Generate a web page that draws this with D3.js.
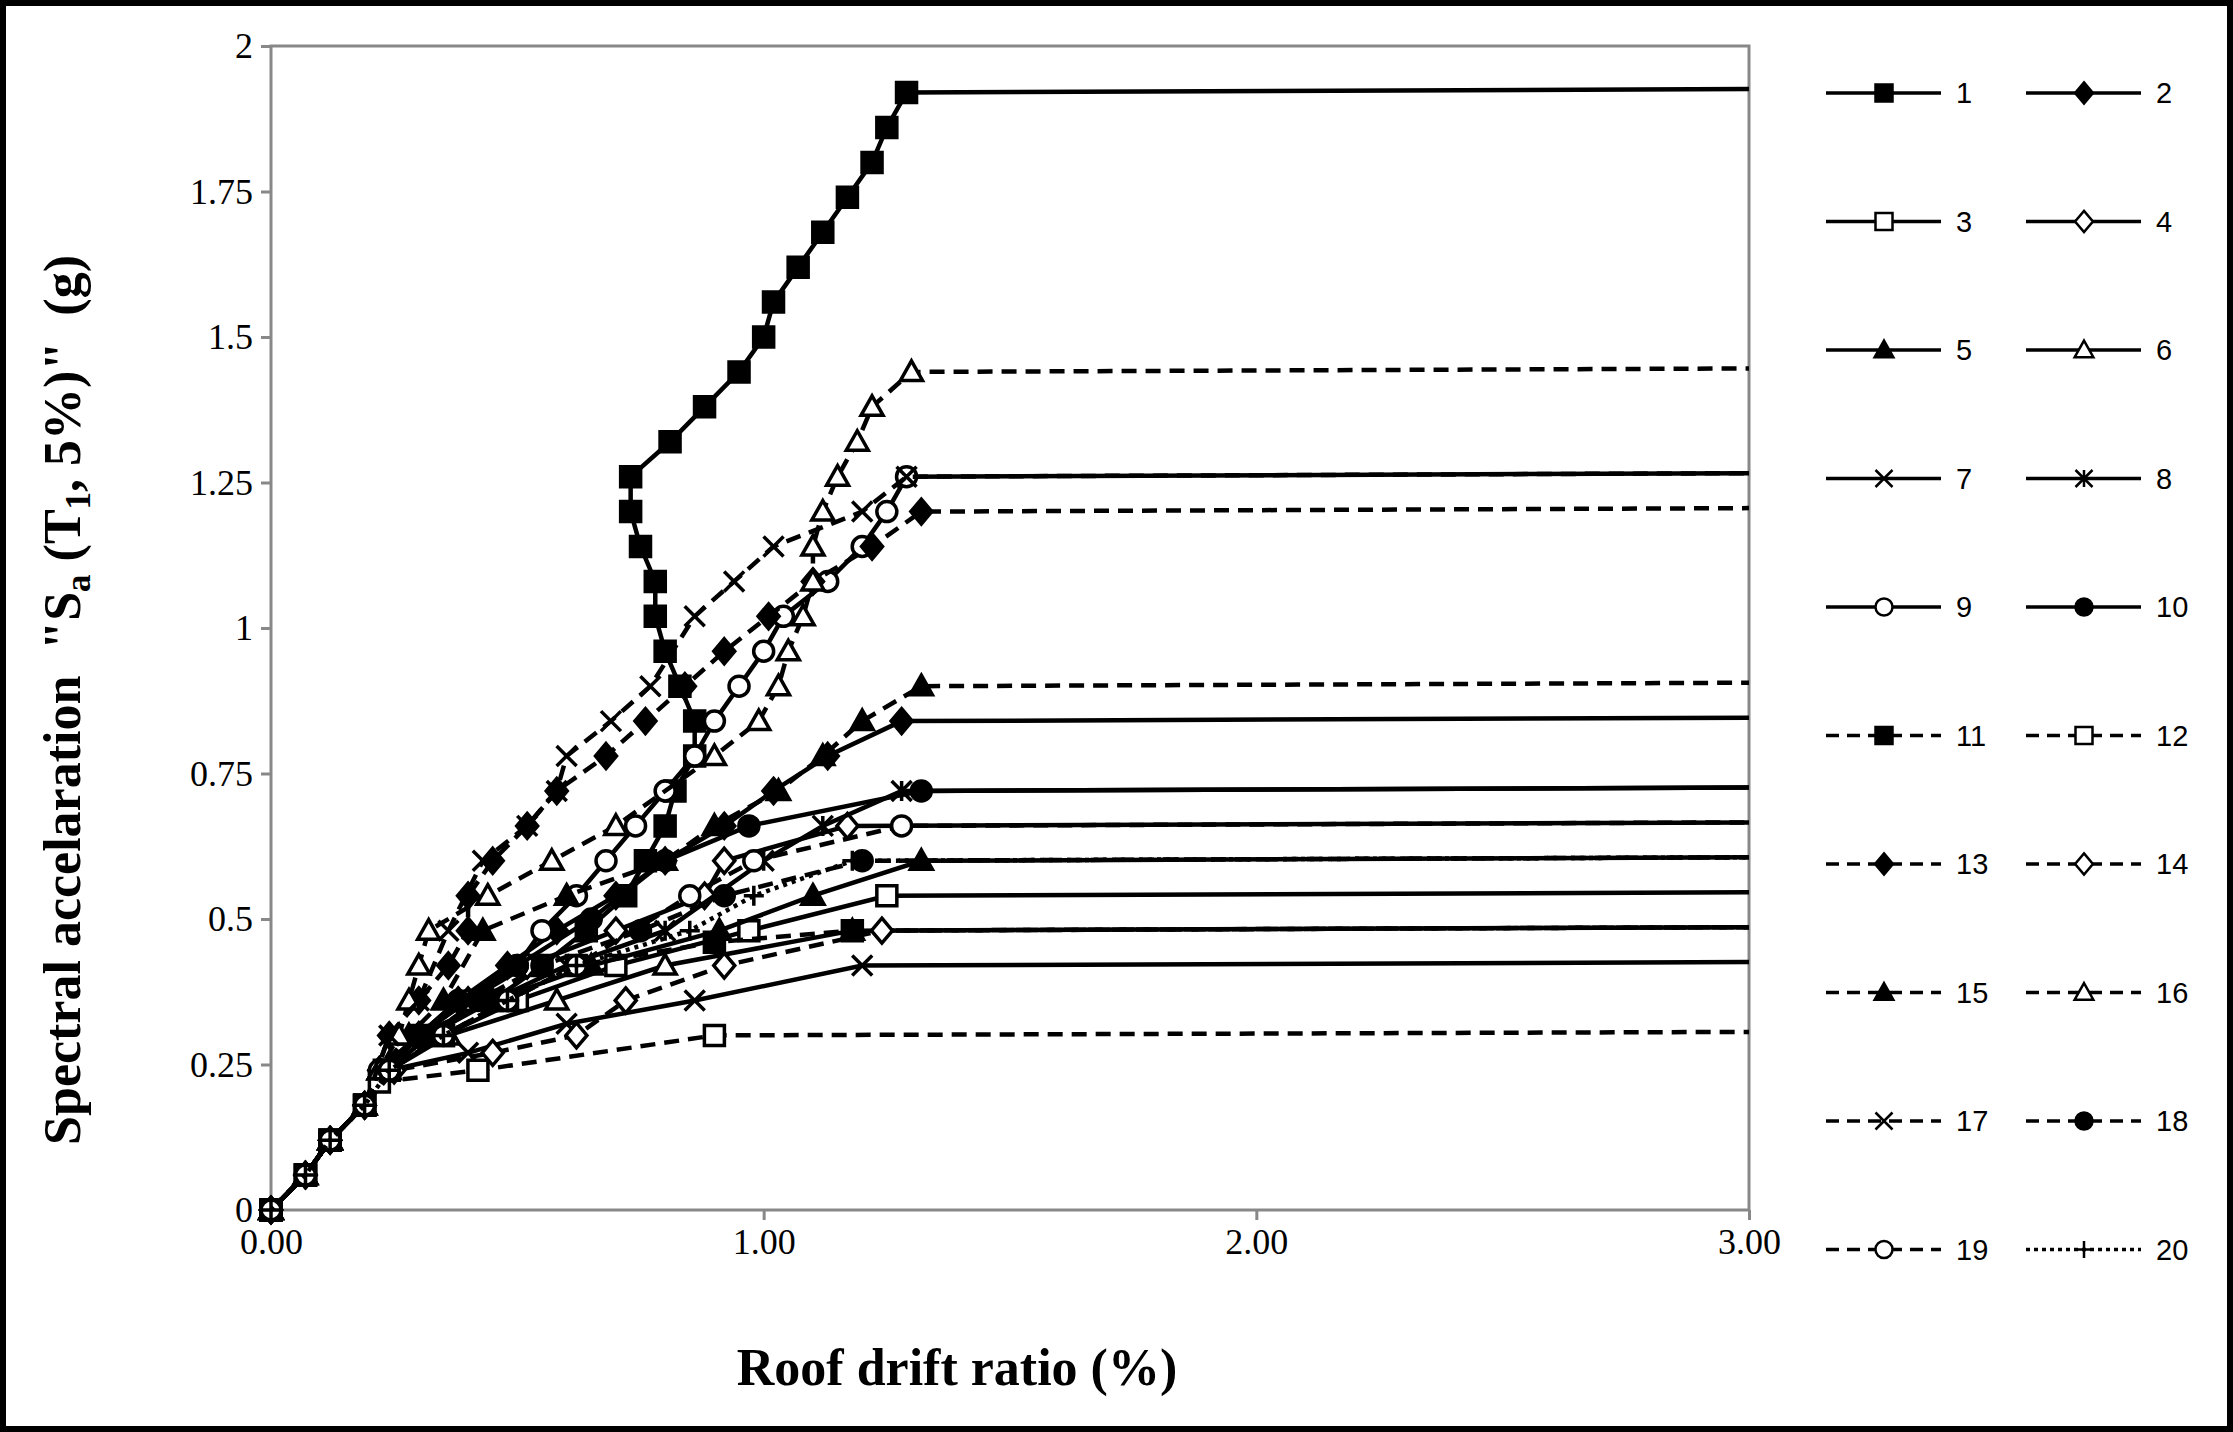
<!DOCTYPE html>
<html><head><meta charset="utf-8">
<script src="https://cdn.jsdelivr.net/npm/d3@7"></script>
<style>
body{margin:0;background:#fff;}
svg{display:block;}
</style></head>
<body><svg id="chart"></svg>
<script>
const W = 2233, H = 1432;
const margin = { left: 271, right: 484, top: 46, bottom: 222 };
const width = W - margin.left - margin.right;
const height = H - margin.top - margin.bottom;

const xTicks = [0, 1, 2, 3];
const yTicks = [0, 0.25, 0.5, 0.75, 1, 1.25, 1.5, 1.75, 2];
const names = ['1','2','3','4','5','6','7','8','9','10','11','12','13','14','15','16','17','18','19','20'];
const markers = ['squareF','diamondF','squareO','diamondO','triF','triO','cross','star','circleO','circleF',
                 'squareF','squareO','diamondF','diamondO','triF','triO','cross','circleF','circleO','plus'];
const dashes = ['solid','solid','solid','solid','solid','solid','solid','solid','solid','solid',
                'dash','dash','dash','dash','dash','dash','dash','dash','dash','dot'];

const start = [[0,0],[0.07,0.06],[0.12,0.12],[0.19,0.18]];
const s1 = [[0.23,0.24],[0.3,0.3],[0.45,0.36],[0.55,0.42],[0.64,0.48],[0.72,0.54],[0.76,0.6],[0.8,0.66],[0.82,0.72],[0.86,0.78],[0.86,0.84],[0.83,0.9],[0.8,0.96],[0.78,1.02],[0.78,1.08],[0.75,1.14],[0.73,1.2],[0.73,1.26],[0.81,1.32],[0.88,1.38],[0.95,1.44],[1.0,1.5],[1.02,1.56],[1.07,1.62],[1.12,1.68],[1.17,1.74],[1.22,1.8],[1.25,1.86],[1.29,1.92]];
const s2 = [[0.22,0.24],[0.3,0.3],[0.38,0.36],[0.48,0.42],[0.58,0.48],[0.7,0.54],[0.8,0.6],[0.92,0.66],[1.02,0.72],[1.13,0.78],[1.28,0.84]];
const s3 = [[0.24,0.24],[0.35,0.3],[0.5,0.36],[0.7,0.42],[0.97,0.48],[1.25,0.54]];
const s4 = [[0.22,0.24],[0.3,0.3],[0.4,0.36],[0.52,0.42],[0.7,0.48],[0.88,0.54],[0.92,0.6],[1.17,0.66]];
const s5 = [[0.22,0.24],[0.3,0.3],[0.45,0.36],[0.65,0.42],[0.91,0.48],[1.1,0.54],[1.32,0.6]];
const s6 = [[0.24,0.24],[0.36,0.3],[0.58,0.36],[0.8,0.42],[1.18,0.48]];
const s7 = [[0.24,0.24],[0.4,0.27],[0.6,0.32],[0.86,0.36],[1.2,0.42]];
const s8 = [[0.24,0.24],[0.32,0.3],[0.45,0.36],[0.6,0.42],[0.8,0.48],[1.0,0.6],[1.12,0.66],[1.28,0.72]];
const s9 = [[0.22,0.24],[0.3,0.3],[0.4,0.36],[0.5,0.42],[0.55,0.48],[0.62,0.54],[0.68,0.6],[0.74,0.66],[0.8,0.72],[0.86,0.78],[0.9,0.84],[0.95,0.9],[1.0,0.96],[1.04,1.02],[1.13,1.08],[1.2,1.14],[1.25,1.2],[1.29,1.26]];
const s10 = [[0.24,0.24],[0.3,0.3],[0.38,0.36],[0.5,0.42],[0.65,0.5],[0.8,0.6],[0.97,0.66],[1.32,0.72]];
const s11 = [[0.24,0.24],[0.35,0.3],[0.48,0.36],[0.62,0.42],[0.9,0.46],[1.18,0.48]];
const s12 = [[0.22,0.22],[0.42,0.24],[0.9,0.3]];
const s13 = [[0.24,0.3],[0.3,0.36],[0.36,0.42],[0.4,0.48],[0.4,0.54],[0.45,0.6],[0.52,0.66],[0.58,0.72],[0.68,0.78],[0.76,0.84],[0.84,0.9],[0.92,0.96],[1.01,1.02],[1.1,1.08],[1.22,1.14],[1.32,1.2]];
const s14 = [[0.25,0.24],[0.45,0.27],[0.62,0.3],[0.72,0.36],[0.92,0.42],[1.24,0.48]];
const s15 = [[0.22,0.24],[0.28,0.3],[0.35,0.36],[0.43,0.48],[0.6,0.54],[0.8,0.6],[0.9,0.66],[1.03,0.72],[1.12,0.78],[1.2,0.84],[1.32,0.9]];
const s16 = [[0.22,0.24],[0.26,0.3],[0.28,0.36],[0.3,0.42],[0.32,0.48],[0.44,0.54],[0.57,0.6],[0.7,0.66],[0.9,0.78],[0.99,0.84],[1.03,0.9],[1.05,0.96],[1.08,1.02],[1.1,1.08],[1.1,1.14],[1.12,1.2],[1.15,1.26],[1.19,1.32],[1.22,1.38],[1.3,1.44]];
const s17 = [[0.24,0.3],[0.3,0.36],[0.36,0.48],[0.43,0.6],[0.52,0.66],[0.58,0.72],[0.6,0.78],[0.69,0.84],[0.77,0.9],[0.86,1.02],[0.94,1.08],[1.02,1.14],[1.2,1.2],[1.29,1.26]];
const s18 = [[0.24,0.24],[0.32,0.3],[0.42,0.36],[0.55,0.42],[0.75,0.48],[0.92,0.54],[1.2,0.6]];
const s19 = [[0.24,0.24],[0.35,0.3],[0.48,0.36],[0.62,0.42],[0.85,0.54],[0.98,0.6],[1.28,0.66]];
const s20 = [[0.24,0.24],[0.35,0.3],[0.48,0.36],[0.62,0.42],[0.85,0.48],[0.98,0.54],[1.18,0.6]];
const seriesPts = [s1,s2,s3,s4,s5,s6,s7,s8,s9,s10,s11,s12,s13,s14,s15,s16,s17,s18,s19,s20];

const dashArr = { solid: null, dash: '15,9', dot: '4,5' };

const markerPath = (type, s) => {
    const h = s / 2;
    switch (type) {
        case 'squareF': case 'squareO': return `M${-h},${-h}H${h}V${h}H${-h}Z`;
        case 'diamondF': case 'diamondO': return `M0,${-h * 1.25}L${h * 1.05},0L0,${h * 1.25}L${-h * 1.05},0Z`;
        case 'triF': case 'triO': return `M0,${-h * 1.1}L${h * 1.1},${h * 0.85}L${-h * 1.1},${h * 0.85}Z`;
        case 'circleF': case 'circleO': return `M${h},0A${h},${h} 0 1,1 ${-h},0A${h},${h} 0 1,1 ${h},0Z`;
        case 'cross': return `M${-h},${-h}L${h},${h}M${h},${-h}L${-h},${h}`;
        case 'star': return `M${-h},${-h}L${h},${h}M${h},${-h}L${-h},${h}M0,${-h}V${h}`;
        case 'plus': return `M${-h},0H${h}M0,${-h}V${h}`;
    }
}
const isFilled = t => t.endsWith('F');
const isOpen = t => t.endsWith('O');

const svg = d3.select('#chart').attr('width', W).attr('height', H);
svg.append('rect').attr('x', 3).attr('y', 3).attr('width', W - 6).attr('height', H - 6)
    .attr('fill', '#fff').attr('stroke', '#000').attr('stroke-width', 6);

const g = svg.append('g').attr('transform', `translate(${margin.left},${margin.top})`);

const x = d3.scaleLinear().domain([0, 3]).range([0, width]);
const y = d3.scaleLinear().domain([0, 2]).range([height, 0]);

// axes
const yAxis = d3.axisLeft(y).tickValues(yTicks).tickSize(10).tickFormat(d => d3.format('')(d));
const xAxis = d3.axisBottom(x).tickValues(xTicks).tickSize(10).tickFormat(d3.format('.2f'));
g.append('g').attr('class', 'y-axis').call(yAxis);
g.append('g').attr('class', 'x-axis').attr('transform', `translate(0,${height})`).call(xAxis);
g.selectAll('.domain').remove();
g.selectAll('.tick line').attr('stroke', '#888').attr('stroke-width', 3);
g.selectAll('.tick text').attr('font-family', 'Liberation Serif').attr('font-size', 36).attr('fill', '#000');
g.selectAll('.y-axis .tick text').attr('x', -18);
g.selectAll('.x-axis .tick text').attr('y', 18);

g.append('rect').attr('width', width).attr('height', height)
    .attr('fill', 'none').attr('stroke', '#888').attr('stroke-width', 3);

const line = d3.line().x(d => x(d[0])).y(d => y(d[1]));

seriesPts.forEach((pts, i) => {
    const last = pts[pts.length - 1];
    const all = start.concat(pts).concat([[3, last[1] + 0.006]]);
    g.append('path').datum(all).attr('d', line)
        .attr('fill', 'none').attr('stroke', '#000').attr('stroke-width', 4.5)
        .attr('stroke-dasharray', dashArr[dashes[i]]);
    const t = markers[i];
    g.selectAll(null).data(start.concat(pts)).enter().append('path')
        .attr('transform', d => `translate(${x(d[0])},${y(d[1])})`)
        .attr('d', markerPath(t, 20))
        .attr('fill', isFilled(t) ? '#000' : (isOpen(t) ? '#fff' : 'none'))
        .attr('stroke', '#000').attr('stroke-width', 3.5);
});

// axis titles
svg.append('text').attr('x', 957).attr('y', 1385)
    .attr('text-anchor', 'middle').attr('font-family', 'Liberation Serif')
    .attr('font-weight', 'bold').attr('font-size', 52).text('Roof drift ratio (%)');

const yt = svg.append('text').attr('transform', `translate(80,700) rotate(-90)`)
    .attr('text-anchor', 'middle').attr('font-family', 'Liberation Serif')
    .attr('font-weight', 'bold').attr('font-size', 52).attr('xml:space', 'preserve')
    .style('white-space', 'pre');
yt.append('tspan').text('Spectral accelaration  "S');
yt.append('tspan').attr('font-size', 35).attr('dy', 10).text('a');
yt.append('tspan').attr('dy', -10).text(' (T');
yt.append('tspan').attr('font-size', 35).attr('dy', 10).text('1');
yt.append('tspan').attr('dy', -10).text(', 5%)"  (g)');

// legend
const lg = svg.append('g');
names.forEach((n, i) => {
    const col = i % 2, row = Math.floor(i / 2);
    const x0 = 1826 + col * 200, yy = 93 + row * 128.5;
    const t = markers[i];
    lg.append('line').attr('x1', x0).attr('x2', x0 + 115).attr('y1', yy).attr('y2', yy)
        .attr('stroke', '#000').attr('stroke-width', 3.5)
        .attr('stroke-dasharray', dashes[i] === 'dash' ? '13,8' : dashes[i] === 'dot' ? '4,4' : null);
    lg.append('path').attr('transform', `translate(${x0 + 58},${yy})`).attr('d', markerPath(t, 17))
        .attr('fill', isFilled(t) ? '#000' : (isOpen(t) ? '#fff' : 'none'))
        .attr('stroke', '#000').attr('stroke-width', 2.5);
    lg.append('text').attr('x', x0 + 130).attr('y', yy + 10)
        .attr('font-family', 'Liberation Sans').attr('font-size', 29).text(n);
});
</script></body></html>
